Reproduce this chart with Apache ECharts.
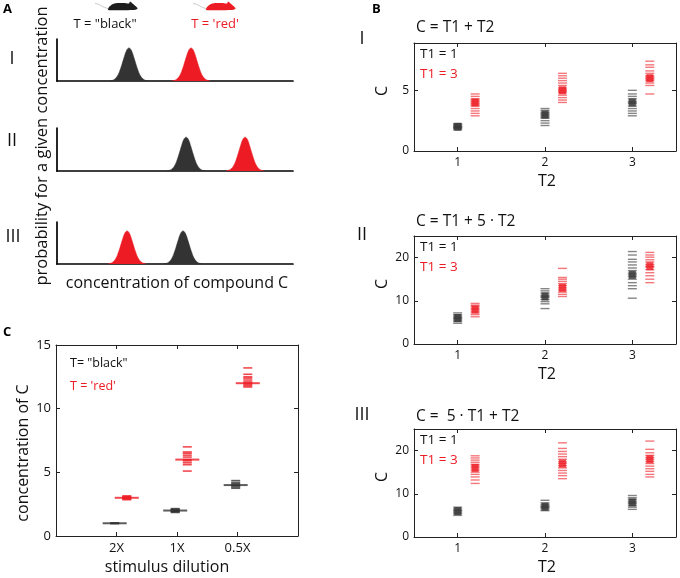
<!DOCTYPE html>
<html><head><meta charset="utf-8">
<script src="https://cdn.jsdelivr.net/npm/echarts@6/dist/echarts.min.js"></script>
<style>html,body{margin:0;padding:0;background:#fff}#c{width:680px;height:578px}</style>
</head><body><div id="c"></div>
<script>
// ---------- Panel A: illustrative concentration distributions ----------
const peakOffsets = [-8,-7,-6,-5,-4,-3,-2,-1,0,1,2,3,4,5,6,7,8];
const peakHeights = [0.01,0.02,0.06,0.14,0.29,0.5,0.73,0.93,1,0.93,0.73,0.5,0.29,0.14,0.06,0.02,0.01];
const peakCentersBlack = [30.5, 54.7, 53.4];   // scenarios I, II, III
const peakCentersRed   = [56.8, 79.7, 29.7];

// ---------- Panel B: simulated C for T1 = 1 (black) and T1 = 3 (red) ----------
const t2Values = [1, 2, 3];
const bIMeanBlack   = [2, 3, 4];
const bIMeanRed     = [4, 5, 6];
const bIIMeanBlack  = [6, 11, 16];
const bIIMeanRed    = [8, 13, 18];
const bIIIMeanBlack = [6, 7, 8];
const bIIIMeanRed   = [16, 17, 18];
const bIRepBlack = [
  [1.75,1.85,1.9,1.95,2.0,2.05,2.1,2.2,2.25],
  [2.1,2.3,2.5,2.7,2.8,2.9,3.0,3.1,3.2,3.35,3.5],
  [2.9,3.1,3.3,3.5,3.7,3.9,4.0,4.1,4.3,4.5,4.7,5.0]];
const bIRepRed = [
  [2.9,3.1,3.3,3.5,3.7,3.8,3.9,4.0,4.1,4.2,4.3,4.5,4.7],
  [4.0,4.2,4.4,4.6,4.8,4.9,5.0,5.1,5.2,5.4,5.6,5.8,6.0,6.2,6.4],
  [4.7,5.4,5.6,5.8,5.9,6.0,6.1,6.2,6.4,6.6,6.9,7.1,7.4]];
const bIIRepBlack = [
  [4.8,5.2,5.5,5.8,6.0,6.2,6.5,6.8,7.2],
  [8.2,9.3,9.8,10.3,10.8,11.0,11.3,11.8,12.3,12.8],
  [10.6,12.8,13.5,14.2,15.0,15.6,16.0,16.4,17.0,17.6,18.3,19.0,19.6,20.6,21.4]];
const bIIRepRed = [
  [6.3,6.8,7.2,7.6,8.0,8.3,8.7,9.0,9.4],
  [11.0,11.5,12.0,12.5,13.0,13.5,14.0,14.5,15.0,15.4,17.5],
  [14.2,15.0,15.8,16.5,17.2,17.8,18.0,18.4,19.0,19.5,20.1,20.6,21.2]];
const bIIIRepBlack = [
  [5.0,5.4,5.7,6.0,6.2,6.5,6.9],
  [6.1,6.5,6.8,7.0,7.2,7.5,7.9,8.5],
  [6.4,6.9,7.3,7.7,8.0,8.3,8.7,9.1,9.6]];
const bIIIRepRed = [
  [12.4,13.2,13.9,14.5,15.0,15.5,16.0,16.4,16.8,17.3,17.8,18.3,18.8],
  [13.5,14.2,14.8,15.4,16.0,16.5,17.0,17.4,18.0,18.6,19.2,19.8,20.5,21.8],
  [13.9,14.5,15.2,15.8,16.4,17.0,17.5,18.0,18.4,18.9,19.5,20.3,22.2]];
const bTitles = ['C = T1 + T2', 'C = T1 + 5 \u00b7 T2', 'C =  5 \u00b7 T1 + T2'];
const bRoman = ['I', 'II', 'III'];
const bYMax = [8.9, 25, 25];
const bYTicks = [[0,5],[0,10,20],[0,10,20]];

// ---------- Panel C: stimulus dilution ----------
const cCategories = ['2X', '1X', '0.5X'];
const cMeanBlack = [1, 2, 4];
const cMeanRed   = [3, 6, 12];
const cRepBlack = [
  [0.97,1.0,1.03],
  [1.85,1.9,1.95,2.0,2.05,2.1,2.15],
  [3.75,3.85,3.95,4.0,4.1,4.2,4.35]];
const cRepRed = [
  [2.85,2.9,2.95,3.0,3.05,3.1,3.15],
  [5.1,5.6,5.75,5.9,6.0,6.2,6.35,6.5,6.6,7.0],
  [11.7,11.8,11.9,12.0,12.1,12.25,12.4,12.5,12.7,13.2]];
const cYTicks = [0, 5, 10, 15];

// ---------- styling ----------
const FONT = 'Open Sans';
const BLACK = '#333333';
const RED = '#ed1c24';
const AX = '#222222';

const grids = [], xAxes = [], yAxes = [], series = [], graphic = [];

function txt(x, y, text, size, color, align, rot, weight) {
  graphic.push({
    type: 'text', x: x, y: y, rotation: rot || 0, silent: true,
    style: { text: text, fontFamily: FONT, fontSize: size, fill: color || '#111',
             fontWeight: weight || 'normal', textAlign: align || 'left', textVerticalAlign: 'middle' }
  });
}

// ----- Panel A grids -----
const aTops = [39, 128, 222];
const aBottoms = [81, 171, 264];
for (let i = 0; i < 3; i++) {
  grids.push({ left: 57, top: aTops[i], width: 236, height: aBottoms[i] - aTops[i] });
  const axLine = { show: true, onZero: false, lineStyle: { color: '#000', width: 1.7 } };
  xAxes.push({ gridIndex: i, type: 'value', min: 0, max: 100, axisLine: axLine,
    axisTick: { show: false }, axisLabel: { show: false }, splitLine: { show: false } });
  yAxes.push({ gridIndex: i, type: 'value', min: 0, max: 1.27, axisLine: axLine,
    axisTick: { show: false }, axisLabel: { show: false }, splitLine: { show: false } });
  [[peakCentersBlack[i], BLACK], [peakCentersRed[i], RED]].forEach(([c, col]) => {
    series.push({
      type: 'line', xAxisIndex: i, yAxisIndex: i, smooth: 0.4, symbol: 'none', silent: true,
      lineStyle: { color: col, width: 0.5 }, areaStyle: { color: col, opacity: 1 },
      data: peakOffsets.map((o, k) => [c + o, peakHeights[k]])
    });
  });
}

// ----- Panel B grids -----
const bTops = [43, 236, 429];
const bHeights = [108, 108, 108];
const bMeans = [[bIMeanBlack, bIMeanRed], [bIIMeanBlack, bIIMeanRed], [bIIIMeanBlack, bIIIMeanRed]];
const bReps = [[bIRepBlack, bIRepRed], [bIIRepBlack, bIIRepRed], [bIIIRepBlack, bIIIRepRed]];
const RED_SHIFT = 0.2;

function boxAxes(gi, xmin, xmax, xticks, ymin, ymax, yticks, xfmt, fs, tickLen) {
  const line = { show: true, onZero: false, lineStyle: { color: AX, width: 1 } };
  const xi = xAxes.length, yi = yAxes.length;
  xAxes.push({ gridIndex: gi, type: 'value', position: 'bottom', min: xmin, max: xmax, axisLine: line,
    axisTick: { show: true, inside: true, length: tickLen, customValues: xticks, lineStyle: { color: AX } },
    axisLabel: { show: true, customValues: xticks, formatter: xfmt, fontFamily: FONT, fontSize: fs, color: '#111', margin: 6 },
    splitLine: { show: false } });
  xAxes.push({ gridIndex: gi, type: 'value', position: 'top', min: xmin, max: xmax, axisLine: line,
    axisTick: { show: true, inside: true, length: tickLen, customValues: xticks, lineStyle: { color: AX } },
    axisLabel: { show: false }, splitLine: { show: false } });
  yAxes.push({ gridIndex: gi, type: 'value', position: 'left', min: ymin, max: ymax, axisLine: line,
    axisTick: { show: true, inside: true, length: tickLen, customValues: yticks, lineStyle: { color: AX } },
    axisLabel: { show: true, customValues: yticks, fontFamily: FONT, fontSize: fs, color: '#111', margin: 5 },
    splitLine: { show: false } });
  yAxes.push({ gridIndex: gi, type: 'value', position: 'right', min: ymin, max: ymax, axisLine: line,
    axisTick: { show: true, inside: true, length: tickLen, customValues: yticks, lineStyle: { color: AX } },
    axisLabel: { show: false }, splitLine: { show: false } });
  return [xi, yi];
}

for (let p = 0; p < 3; p++) {
  const gi = grids.length;
  grids.push({ left: 414, top: bTops[p], width: 262, height: bHeights[p] });
  const [xi, yi] = boxAxes(gi, 0.5, 3.5, t2Values, 0, bYMax[p], bYTicks[p], v => String(v), 12, 4);
  [[0, BLACK, 0], [1, RED, RED_SHIFT]].forEach(([c, col, sh]) => {
    const reps = [];
    bReps[p][c].forEach((arr, k) => arr.forEach(v => reps.push([t2Values[k] + sh, v])));
    series.push({ type: 'scatter', xAxisIndex: xi, yAxisIndex: yi, symbol: 'rect', symbolSize: [9, 1.4],
      itemStyle: { color: col, opacity: 0.6 }, silent: true, data: reps, z: 3 });
    series.push({ type: 'scatter', xAxisIndex: xi, yAxisIndex: yi, symbol: 'rect', symbolSize: [7, 8],
      itemStyle: { color: col }, silent: true, z: 4,
      data: bMeans[p][c].map((v, k) => [t2Values[k] + sh, v]) });
  });
}

// ----- Panel C grid -----
{
  const gi = grids.length;
  grids.push({ left: 56, top: 345, width: 242, height: 191 });
  const cX = [1, 2, 3];
  const [xi, yi] = boxAxes(gi, 0, 4, cX, 0, 15, cYTicks, v => cCategories[Math.round(v) - 1] || '', 13, 4);
  [[cRepBlack, cMeanBlack, BLACK, -0.03], [cRepRed, cMeanRed, RED, 0.17]].forEach(([reps, means, col, sh]) => {
    const pts = [];
    reps.forEach((arr, k) => arr.forEach(v => pts.push([cX[k] + sh, v])));
    series.push({ type: 'scatter', xAxisIndex: xi, yAxisIndex: yi, symbol: 'rect', symbolSize: [9, 1.6],
      itemStyle: { color: col, opacity: 0.8 }, silent: true, data: pts, z: 3 });
    series.push({ type: 'scatter', xAxisIndex: xi, yAxisIndex: yi, symbol: 'rect', symbolSize: [24, 2],
      itemStyle: { color: col }, silent: true, z: 4, data: means.map((v, k) => [cX[k] + sh, v]) });
  });
}

// ----- Texts -----
txt(3, 9, 'A', 13, '#000', 'left', 0, 'bold');
txt(372, 9, 'B', 13, '#000', 'left', 0, 'bold');
txt(3, 332, 'C', 13, '#000', 'left', 0, 'bold');
// Panel A
txt(105, 24, 'T = "black"', 13, '#111', 'center');
txt(215, 24, "T = 'red'", 13, RED, 'center');
txt(12, 59, 'I', 18, '#111', 'center');
txt(12, 141, 'II', 18, '#111', 'center');
txt(13, 237, 'III', 18, '#111', 'center');
txt(42, 146, 'probability for a given concentration', 16.5, '#111', 'center', Math.PI / 2);
txt(177, 283, 'concentration of compound C', 16, '#111', 'center');
// Panel B
const bRomanY = [39, 235, 415];
const bTitleY = [28, 222, 417];
for (let p = 0; p < 3; p++) {
  txt(362, bRomanY[p], bRoman[p], 18, '#111', 'center');
  txt(416, bTitleY[p], bTitles[p], 15.5, '#111', 'left');
  txt(420, bTops[p] + 11, 'T1 = 1', 13.5, '#111', 'left');
  txt(420, bTops[p] + 31, 'T1 = 3', 13.5, RED, 'left');
  txt(382, bTops[p] + 48, 'C', 16, '#111', 'center', Math.PI / 2);
  txt(547, bTops[p] + bHeights[p] + 30, 'T2', 16, '#111', 'center');
}
// Panel C
txt(70, 363, 'T= "black"', 12.5, '#111', 'left');
txt(70, 386, "T = 'red'", 12.5, RED, 'left');
txt(23, 453, 'concentration of C', 16, '#111', 'center', Math.PI / 2);
txt(167, 567, 'stimulus dilution', 16, '#111', 'center');

// ----- Mouse icons -----
const mouseBody = [[0,0],[1,-3],[4,-5.5],[9,-7],[16,-7],[21,-6.5],[22,-8.5],[24.5,-6.5],[29,-2.5],[29.5,-1],[25,0]];
[[108, BLACK], [206, RED]].forEach(([x, col]) => {
  graphic.push({ type: 'bezierCurve', x: x, y: 10, silent: true,
    shape: { x1: 0, y1: -1.5, x2: -13, y2: -6.5, cpx1: -5, cpy1: -2, cpx2: -8, cpy2: -6.5 },
    style: { fill: null, stroke: '#bbb', lineWidth: 0.8 } });
  graphic.push({ type: 'polygon', x: x, y: 10, silent: true, shape: { points: mouseBody, smooth: 0.2 },
    style: { fill: col === BLACK ? '#1e1e1e' : col } });
});

const chart = echarts.init(document.getElementById('c'), null, { renderer: 'canvas' });
chart.setOption({
  animation: false,
  backgroundColor: '#fff',
  grid: grids, xAxis: xAxes, yAxis: yAxes, series: series, graphic: graphic
});
</script></body></html>
